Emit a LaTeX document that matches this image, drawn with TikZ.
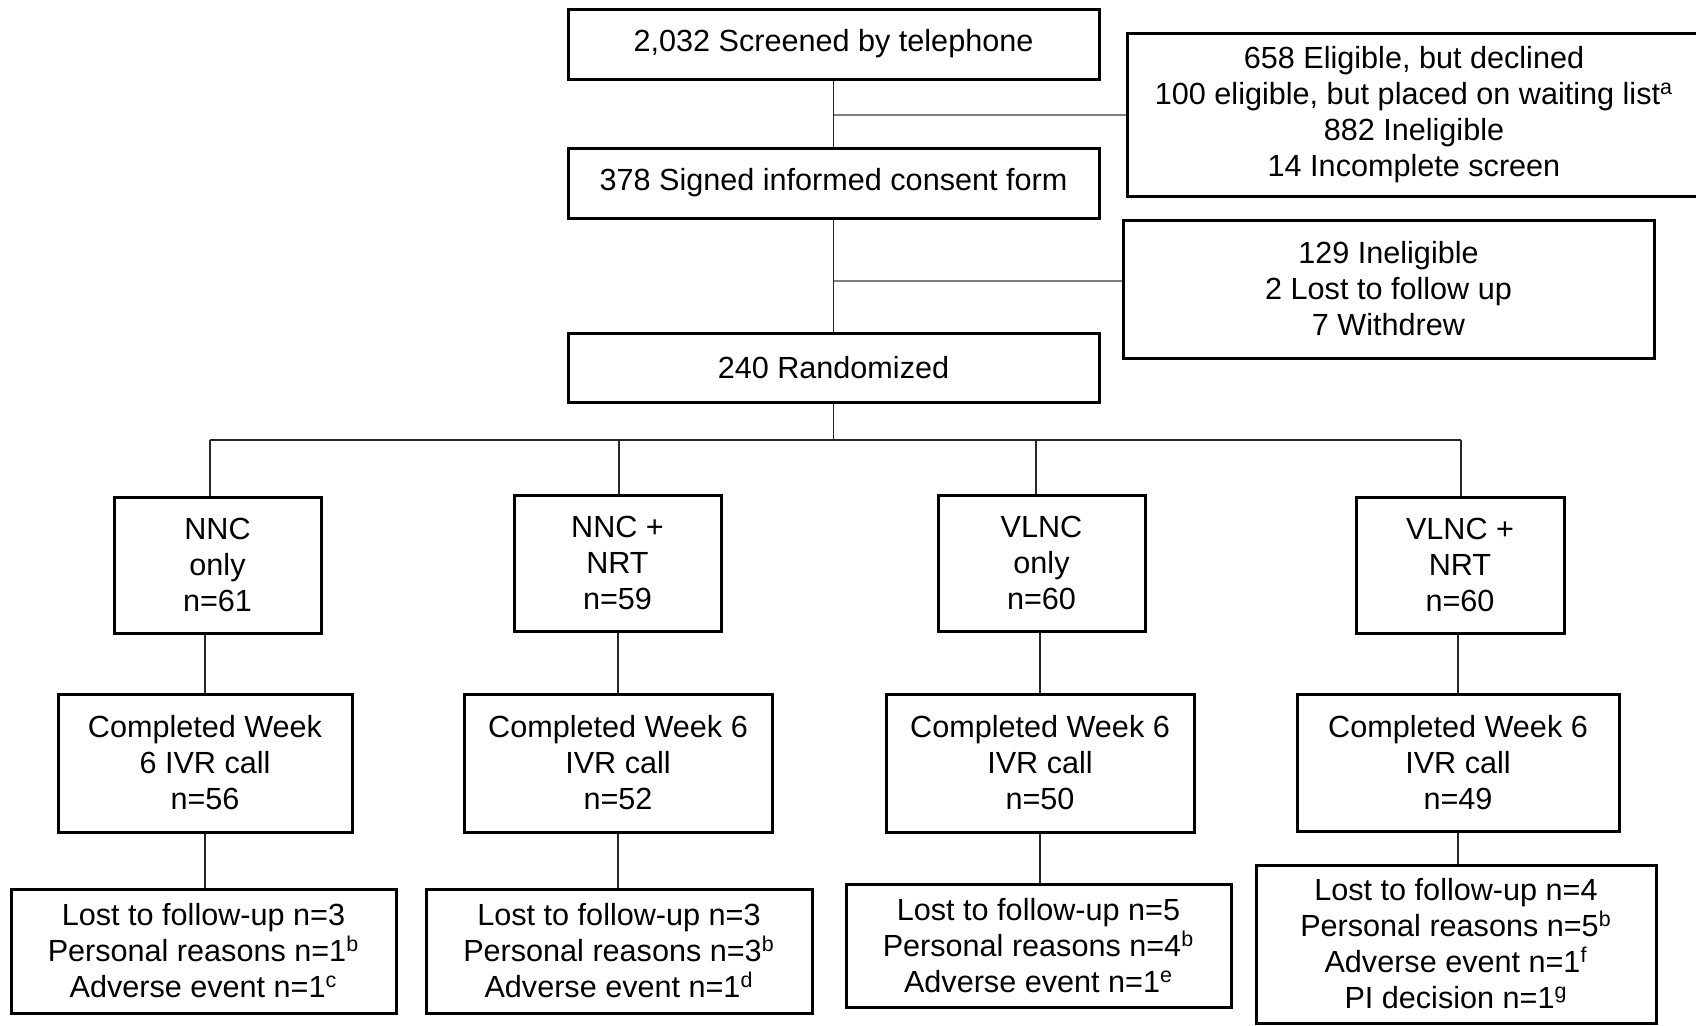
\documentclass[tikz,border=0pt]{standalone}
\usepackage{fontspec}
\setmainfont{Liberation Sans}
\begin{document}
\begin{tikzpicture}[x=0.5pt,y=-0.5pt,
  box/.style={draw=black, line width=1.5pt, rectangle, align=center, inner sep=0pt, font=\fontsize{15.3}{18}\selectfont},
  conn/.style={draw=black!85, line width=0.6pt},
  side/.style={draw=black!50, line width=0.6pt}]
\useasboundingbox (0,0) rectangle (1696,1025);
% top column
\node[box, minimum width=265.5pt, minimum height=35pt] (A) at (833.5,44) {2,032 Screened by telephone};
\node[box, minimum width=265.5pt, minimum height=35pt] (B) at (833.5,183) {378 Signed informed consent form};
\node[box, minimum width=265.5pt, minimum height=34.5pt] (C) at (833.5,367.5) {240 Randomized};
% side boxes
\node[box, minimum width=287pt, minimum height=81.75pt] (R1) at (1414,115) {658 Eligible, but declined\\100 eligible, but placed on waiting list\textsuperscript{a}\\882 Ineligible\\14 Incomplete screen};
\node[box, minimum width=265.5pt, minimum height=69pt] (R2) at (1388.5,289) {129 Ineligible\\2 Lost to follow up\\7 Withdrew};
% arms
\node[box, minimum width=103.5pt, minimum height=68pt] (L1) at (217.5,565) {NNC\\only\\n=61};
\node[box, minimum width=103.5pt, minimum height=68pt] (L2) at (617.5,563) {NNC +\\NRT\\n=59};
\node[box, minimum width=103.5pt, minimum height=68pt] (L3) at (1041.5,563) {VLNC\\only\\n=60};
\node[box, minimum width=104pt, minimum height=68pt] (L4) at (1460,565) {VLNC +\\NRT\\n=60};
% completed
\node[box, minimum width=147pt, minimum height=69pt] (M1) at (205,763) {Completed Week\\6 IVR call\\n=56};
\node[box, minimum width=154pt, minimum height=69pt] (M2) at (618,763) {Completed Week 6\\IVR call\\n=52};
\node[box, minimum width=154pt, minimum height=69pt] (M3) at (1040,763) {Completed Week 6\\IVR call\\n=50};
\node[box, minimum width=161pt, minimum height=68.5pt] (M4) at (1458,762.5) {Completed Week 6\\IVR call\\n=49};
% dropouts
\node[box, minimum width=192.5pt, minimum height=62pt] (D1) at (203.5,951) {Lost to follow-up n=3\\Personal reasons n=1\textsuperscript{b}\\Adverse event n=1\textsuperscript{c}};
\node[box, minimum width=193pt, minimum height=62pt] (D2) at (619,951) {Lost to follow-up n=3\\Personal reasons n=3\textsuperscript{b}\\Adverse event n=1\textsuperscript{d}};
\node[box, minimum width=192.5pt, minimum height=61.5pt] (D3) at (1038.5,945.5) {Lost to follow-up n=5\\Personal reasons n=4\textsuperscript{b}\\Adverse event n=1\textsuperscript{e}};
\node[box, minimum width=200pt, minimum height=79pt] (D4) at (1456,944) {Lost to follow-up n=4\\Personal reasons n=5\textsuperscript{b}\\Adverse event n=1\textsuperscript{f}\\PI decision n=1\textsuperscript{g}};
% connectors top
\draw[conn] (A.south) -- (B.north);
\draw[conn] (B.south) -- (C.north);
\draw[side] (R1.west -| A.south) -- (R1.west);
\coordinate (b2) at (833.5,281);
\draw[side] (b2) -- (b2 -| R2.west);
% randomization bar
\coordinate (bar) at (833.5,440);
\coordinate (j1) at (210,440);
\coordinate (j2) at (619,440);
\coordinate (j3) at (1036,440);
\coordinate (j4) at (1461,440);
\draw[conn] (C.south) -- (bar);
\draw[conn] (j1) -- (j4);
\draw[conn] (j1) -- (j1 |- L1.north);
\draw[conn] (j2) -- (j2 |- L2.north);
\draw[conn] (j3) -- (j3 |- L3.north);
\draw[conn] (j4) -- (j4 |- L4.north);
% arms to completed
\draw[conn] (M1.north |- L1.south) -- (M1.north);
\draw[conn] (M2.north |- L2.south) -- (M2.north);
\draw[conn] (M3.north |- L3.south) -- (M3.north);
\draw[conn] (M4.north |- L4.south) -- (M4.north);
% completed to dropouts
\draw[conn] (M1.south) -- (M1.south |- D1.north);
\draw[conn] (M2.south) -- (M2.south |- D2.north);
\draw[conn] (M3.south) -- (M3.south |- D3.north);
\draw[conn] (M4.south) -- (M4.south |- D4.north);
\end{tikzpicture}
\end{document}
